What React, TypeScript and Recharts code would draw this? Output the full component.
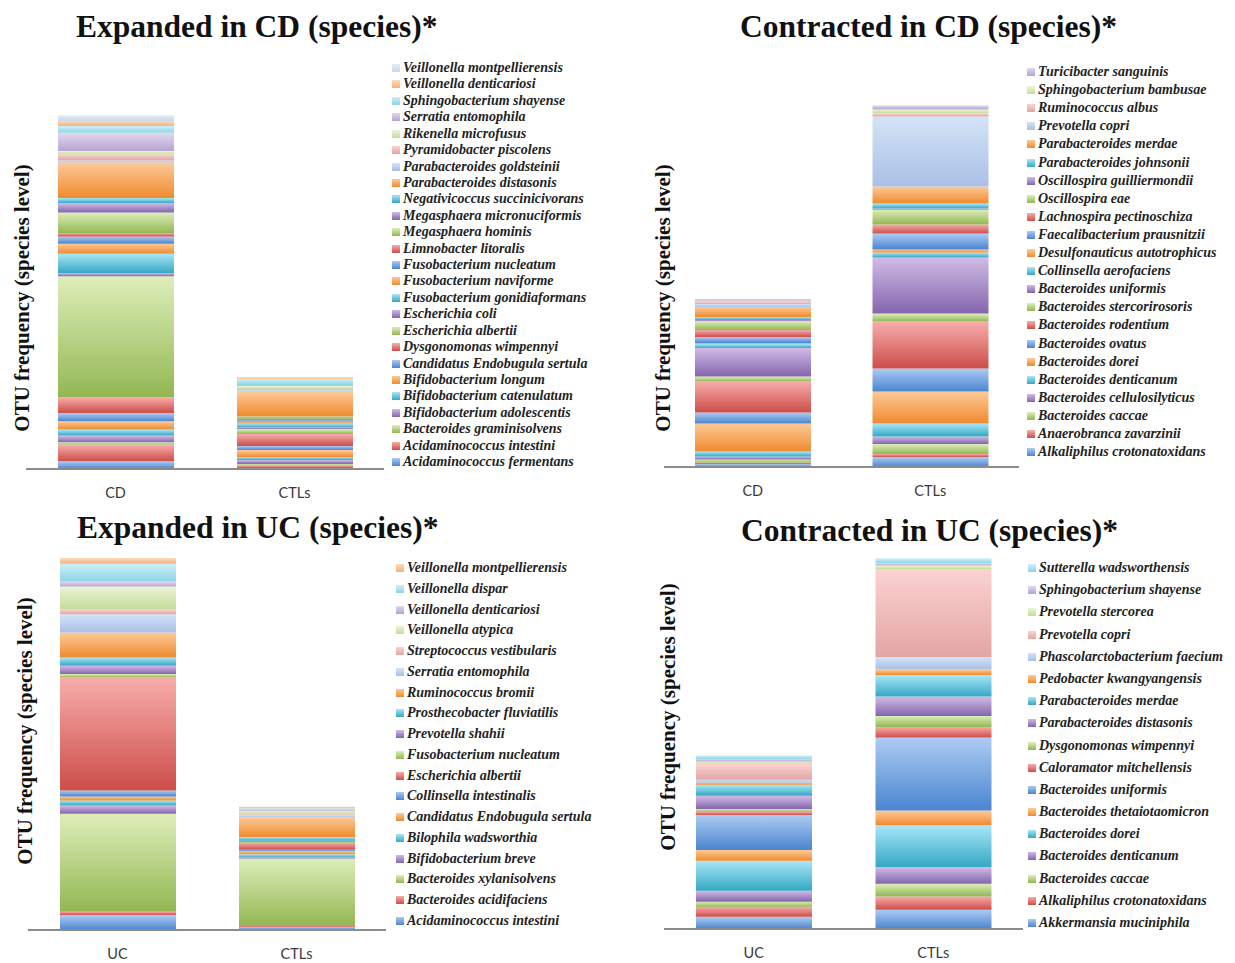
import React from "react";
import { BarChart, Bar, XAxis, YAxis } from "recharts";

// ---- Expanded in CD ----
const cdUpGroups = ["CD", "CTLs"];
const cdUpSpecies = [
  "Acidaminococcus fermentans", "Acidaminococcus intestini", "Bacteroides graminisolvens",
  "Bifidobacterium adolescentis", "Bifidobacterium catenulatum", "Bifidobacterium longum",
  "Candidatus Endobugula sertula", "Dysgonomonas wimpennyi", "Escherichia albertii",
  "Escherichia coli", "Fusobacterium gonidiaformans", "Fusobacterium naviforme",
  "Fusobacterium nucleatum", "Limnobacter litoralis", "Megasphaera hominis",
  "Megasphaera micronuciformis", "Negativicoccus succinicivorans", "Parabacteroides distasonis",
  "Parabacteroides goldsteinii", "Pyramidobacter piscolens", "Rikenella microfusus",
  "Serratia entomophila", "Sphingobacterium shayense", "Veillonella denticariosi",
  "Veillonella montpellierensis",
];
const cdUpCD = [7.7, 16.7, 2.3, 6.7, 6, 8.3, 8.3, 15.7, 121, 3.3, 19.3, 10, 7.3, 3.3, 20.7, 9.3, 5, 35.7, 2, 6, 3.3, 18.3, 6.7, 5, 5.7];
const cdUpCTL = [1, 2.5, 1.5, 4, 3, 7, 4, 12, 5, 1.5, 4, 2, 1.5, 1, 1.5, 0.5, 0.5, 25, 1.5, 1, 3, 1, 6, 1, 1];

// ---- Contracted in CD ----
const cdDownGroups = ["CD", "CTLs"];
const cdDownSpecies = [
  "Alkaliphilus crotonatoxidans", "Anaerobranca zavarzinii", "Bacteroides caccae",
  "Bacteroides cellulosilyticus", "Bacteroides denticanum", "Bacteroides dorei",
  "Bacteroides ovatus", "Bacteroides rodentium", "Bacteroides stercorirosoris",
  "Bacteroides uniformis", "Collinsella aerofaciens", "Desulfonauticus autotrophicus",
  "Faecalibacterium prausnitzii", "Lachnospira pectinoschiza", "Oscillospira eae",
  "Oscillospira guilliermondii", "Parabacteroides johnsonii", "Parabacteroides merdae",
  "Prevotella copri", "Ruminococcus albus", "Sphingobacterium bambusae",
  "Turicibacter sanguinis",
];
const cdDownCD = [3, 1.5, 3, 3, 5, 28, 11, 31, 5, 28.5, 4, 1, 6, 7, 9, 1, 3, 10, 3, 2, 1.5, 1.5];
const cdDownCTL = [10, 3, 10, 7.5, 13, 32, 23, 47, 8, 56, 5, 3, 16, 9, 15, 1, 5, 17, 70, 3, 4, 4];

// ---- Expanded in UC ----
const ucUpGroups = ["UC", "CTLs"];
const ucUpSpecies = [
  "Acidaminococcus intestini", "Bacteroides acidifaciens", "Bacteroides xylanisolvens",
  "Bifidobacterium breve", "Bilophila wadsworthia", "Candidatus Endobugula sertula",
  "Collinsella intestinalis", "Escherichia albertii", "Fusobacterium nucleatum",
  "Prevotella shahii", "Prosthecobacter fluviatilis", "Ruminococcus bromii",
  "Serratia entomophila", "Streptococcus vestibularis", "Veillonella atypica",
  "Veillonella denticariosi", "Veillonella dispar", "Veillonella montpellierensis",
];
const ucUpUC = [15, 3.3, 98, 8.3, 5, 4, 6, 113, 3.3, 8.3, 8.3, 25, 18.3, 5, 22.7, 5, 17.7, 5.7];
const ucUpCTL = [3, 1, 67.5, 1, 3.3, 3, 1.5, 7, 1, 1, 3.5, 20, 2, 1, 3.5, 1.5, 1, 1.5];

// ---- Contracted in UC ----
const ucDownGroups = ["UC", "CTLs"];
const ucDownSpecies = [
  "Akkermansia muciniphila", "Alkaliphilus crotonatoxidans", "Bacteroides caccae",
  "Bacteroides denticanum", "Bacteroides dorei", "Bacteroides thetaiotaomicron",
  "Bacteroides uniformis", "Caloramator mitchellensis", "Dysgonomonas wimpennyi",
  "Parabacteroides distasonis", "Parabacteroides merdae", "Pedobacter kwangyangensis",
  "Phascolarctobacterium faecium", "Prevotella copri", "Prevotella stercorea",
  "Sphingobacterium shayense", "Sutterella wadsworthensis",
];
const ucDownUC = [12.3, 10, 5, 11, 30, 10.7, 35, 3.3, 2.7, 13.3, 11, 2.3, 2.7, 16, 2.3, 2, 4];
const ucDownCTL = [19.3, 13.3, 12.7, 16.7, 41.7, 14.7, 73, 10.7, 11, 19.3, 21.7, 5.3, 12.7, 88, 3.3, 2.3, 5];

// gradient pairs [top, bottom]
const BASE = [
  ["#adcbf3", "#4a85cf"],
  ["#f7adab", "#cd4d49"],
  ["#ddeeba", "#93b752"],
  ["#d0bce6", "#8465ad"],
  ["#a9e7f6", "#35a7c4"],
  ["#fdca98", "#ef8a2e"],
];
const LIGHT = [
  ["#d4e3f7", "#a8c0e6"],
  ["#fbd3d1", "#e2a5a4"],
  ["#ebf5d5", "#c4dc99"],
  ["#e2d8ef", "#b5a3d2"],
  ["#cdf0f9", "#8ed3e7"],
  ["#fddabb", "#f4b07b"],
];
const PALE = ["#e4ecf7", "#c9d7ec"];

function colorFor(i: number, lightFrom: number) {
  if (i < lightFrom) return BASE[i % 6];
  if (i - lightFrom < 6) return LIGHT[i - lightFrom];
  return PALE;
}

const PLOT_H = 380;
const AXIS_H = 34;
const serif = '"Liberation Serif", "Times New Roman", serif';

const panels = [
  {
    id: "p1", title: "Expanded in CD (species)*", groups: cdUpGroups, species: cdUpSpecies,
    values: [cdUpCD, cdUpCTL], lightFrom: 18,
    titleX: 76, titleY: 11, plotLeft: 26, plotWidth: 358, baseline: 469,
    yLabelX: 22, yLabelY: 298, legendX: 392, legendTop: 68, legendStep: 16.42,
  },
  {
    id: "p2", title: "Contracted in CD (species)*", groups: cdDownGroups, species: cdDownSpecies,
    values: [cdDownCD, cdDownCTL], lightFrom: 18,
    titleX: 740, titleY: 11, plotLeft: 664, plotWidth: 355, baseline: 467,
    yLabelX: 663, yLabelY: 298, legendX: 1027, legendTop: 72, legendStep: 18.1,
  },
  {
    id: "p3", title: "Expanded in UC (species)*", groups: ucUpGroups, species: ucUpSpecies,
    values: [ucUpUC, ucUpCTL], lightFrom: 12,
    titleX: 77, titleY: 512, plotLeft: 28, plotWidth: 358, baseline: 930,
    yLabelX: 25, yLabelY: 731, legendX: 396, legendTop: 568, legendStep: 20.76,
  },
  {
    id: "p4", title: "Contracted in UC (species)*", groups: ucDownGroups, species: ucDownSpecies,
    values: [ucDownUC, ucDownCTL], lightFrom: 12,
    titleX: 741, titleY: 515, plotLeft: 664, plotWidth: 359, baseline: 929,
    yLabelX: 668, yLabelY: 717, legendX: 1028, legendTop: 568, legendStep: 22.19,
  },
];

function Panel({ cfg }: { cfg: any }) {
  const data = cfg.groups.map((g: string, gi: number) => {
    const row: any = { group: g };
    cfg.species.forEach((_: string, i: number) => {
      row[`s${i}`] = cfg.values[gi][i];
    });
    return row;
  });
  const n = cfg.species.length;

  return (
    <>
      <div
        style={{
          position: "absolute", left: cfg.titleX, top: cfg.titleY, fontFamily: serif,
          fontWeight: "bold", fontSize: 31.5, lineHeight: 1, color: "#111", whiteSpace: "nowrap",
        }}
      >
        {cfg.title}
      </div>
      <div
        style={{
          position: "absolute", left: cfg.yLabelX, top: cfg.yLabelY,
          transform: "translate(-50%, -50%) rotate(-90deg)", fontFamily: serif,
          fontWeight: "bold", fontSize: 21, lineHeight: 1, color: "#111", whiteSpace: "nowrap",
        }}
      >
        OTU frequency (species level)
      </div>
      <div style={{ position: "absolute", left: cfg.plotLeft, top: cfg.baseline - PLOT_H }}>
        <BarChart
          width={cfg.plotWidth}
          height={PLOT_H + AXIS_H}
          data={data}
          margin={{ top: 0, right: 0, bottom: 0, left: 0 }}
        >
          <defs>
            {cfg.species.map((_: string, i: number) => {
              const [top, bottom] = colorFor(i, cfg.lightFrom);
              return (
                <linearGradient key={i} id={`${cfg.id}-g${i}`} x1="0" y1="0" x2="0" y2="1">
                  <stop offset="0%" stopColor={top} />
                  <stop offset="100%" stopColor={bottom} />
                </linearGradient>
              );
            })}
          </defs>
          <XAxis
            dataKey="group"
            height={AXIS_H}
            interval={0}
            tickLine={false}
            tickMargin={13}
            axisLine={{ stroke: "#8c8c8c", strokeWidth: 2 }}
            tick={{ fill: "#3a3a3a", fontSize: 14.5, fontFamily: "Lato, sans-serif" }}
          />
          <YAxis hide domain={[0, PLOT_H]} />
          {cfg.species.map((name: string, i: number) => (
            <Bar
              key={name}
              dataKey={`s${i}`}
              name={name}
              stackId="a"
              barSize={116}
              fill={`url(#${cfg.id}-g${i})`}
              isAnimationActive={false}
            />
          ))}
        </BarChart>
      </div>
      {cfg.species.map((name: string, i: number) => {
        const row = n - 1 - i;
        const [top, bottom] = colorFor(i, cfg.lightFrom);
        return (
          <div
            key={name}
            style={{
              position: "absolute", left: cfg.legendX, top: cfg.legendTop + row * cfg.legendStep - 8,
              height: 16, display: "flex", alignItems: "center", whiteSpace: "nowrap",
            }}
          >
            <span
              style={{
                width: 8, height: 8, marginRight: 3, display: "inline-block",
                background: `linear-gradient(${top}, ${bottom})`,
              }}
            />
            <span
              style={{
                fontFamily: serif, fontWeight: "bold", fontStyle: "italic",
                fontSize: 14, color: "#222",
              }}
            >
              {name}
            </span>
          </div>
        );
      })}
    </>
  );
}

export default function App() {
  return (
    <div style={{ position: "absolute", left: 0, top: 0, width: 1235, height: 963, background: "#fff" }}>
      {panels.map((p) => (
        <Panel key={p.id} cfg={p} />
      ))}
    </div>
  );
}
